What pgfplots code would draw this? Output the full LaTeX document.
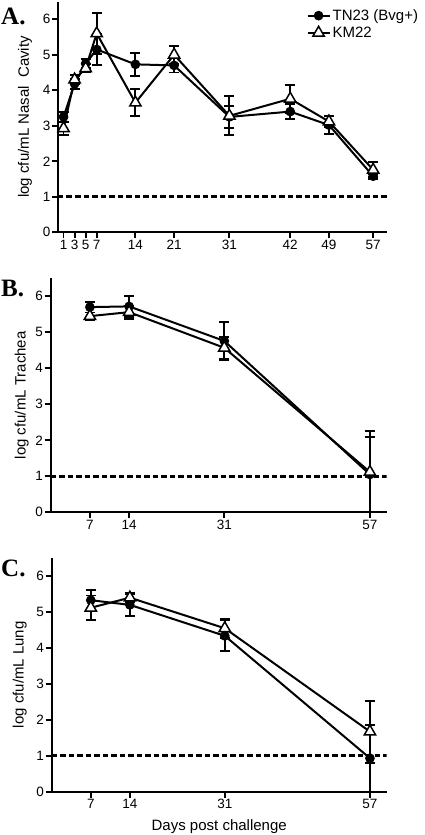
\documentclass[border=0pt]{standalone}
\usepackage{pgfplots}
\pgfplotsset{compat=1.18}
\usepackage{fontspec}
\setmainfont{Liberation Sans}
\newfontfamily\letterfont{Liberation Serif}
\begin{document}
\begin{tikzpicture}
\pgfplotsset{
  prism/.style={
    scale only axis,
    axis lines=left,
    x axis line style={-},
    y axis line style={-},
    axis line style={line width=1.9pt},
    tick align=outside,
    major tick length=6pt,
    tick style={line width=1.9pt,black},
    ymin=0, ymax=6.5, ytick={0,1,2,3,4,5,6},
    xmin=0,
    /pgf/number format/assume math mode=true,
    tick label style={font=\fontsize{13.5}{15}\selectfont, inner sep=1.5pt},
    label style={font=\fontsize{15}{17}\selectfont},
    clip mode=individual,
    anchor=south west,
  },
  tn/.style={black, line width=2pt, mark=*, mark size=3.8pt,
    mark options={solid, fill=black},
    error bars/y dir=both, error bars/y explicit,
    error bars/error bar style={line width=1.9pt, black},
    error bars/error mark options={black, line width=1.9pt, mark size=5pt, rotate=90}},
  km/.style={black, line width=2pt, mark=triangle*, mark size=6.5pt,
    mark options={solid, fill=white, line width=1.5pt},
    error bars/y dir=both, error bars/y explicit,
    error bars/error bar style={line width=1.9pt, black},
    error bars/error mark options={black, line width=1.9pt, mark size=5pt, rotate=90}},
  lod/.style={black, line width=2.6pt, dash pattern=on 5.5pt off 3pt, forget plot},
}

% ---------- Panel A ----------
\begin{axis}[prism,
  at={(58pt,-232.3pt)}, width=329pt, height=230.8pt,
  xmax=59.5,
  xtick={1,3,5,7,14,21,31,42,49,57},
  ylabel={log cfu/mL Nasal\ \ Cavity},
  ylabel style={at={([xshift=-33pt]rel axis cs:0,0.5)}, anchor=center},
  legend style={at={(rel axis cs:0.755,0.975)}, anchor=north west, draw=none, fill=none,
    font=\fontsize{15}{17}\selectfont, row sep=1pt, inner sep=0pt},
  legend cell align=left,
  legend image code/.code={\draw[mark repeat=2,mark phase=2,#1] plot coordinates {(0pt,0pt)(11pt,0pt)(22pt,0pt)};},
]
\addplot[lod] coordinates {(0,1) (59.5,1)};
\addplot[tn] table[x=x, y=y, y error=e] {
x y e
1 3.25 0.15
3 4.18 0.15
5 4.75 0.12
7 5.15 0.45
14 4.73 0.32
21 4.70 0.20
31 3.25 0.30
42 3.40 0.22
49 3.02 0.25
57 1.58 0.07
};
\addlegendentry{TN23 (Bvg+)}
\addplot[km] table[x=x, y=y, y error=e] {
x y e
1 2.93 0.18
3 4.30 0.12
5 4.62 0.12
7 5.60 0.57
14 3.65 0.38
21 5.00 0.25
31 3.28 0.55
42 3.76 0.40
49 3.12 0.15
57 1.76 0.21
};
\addlegendentry{KM22}
\end{axis}

% ---------- Panel B ----------
\begin{axis}[prism,
  at={(50.7pt,-512.3pt)}, width=336pt, height=234pt,
  xmax=60,
  xtick={7,14,31,57},
  ylabel={log cfu/mL Trachea},
  ylabel style={at={([xshift=-29pt]rel axis cs:0,0.5)}, anchor=center},
]
\addplot[lod] coordinates {(0,1) (60,1)};
\addplot[tn] table[x=x, y=y, y error=e] {
x y e
7 5.70 0.15
14 5.72 0.30
31 4.76 0.53
57 1.05 1.05
};
\addplot[km] table[x=x, y=y, y error=e] {
x y e
7 5.45 0.10
14 5.56 0.18
31 4.57 0.30
57 1.12 1.13
};
\end{axis}

% ---------- Panel C ----------
\begin{axis}[prism,
  at={(51.7pt,-791.7pt)}, width=335pt, height=234pt,
  xmax=60,
  xtick={7,14,31,57},
  ylabel={log cfu/mL Lung},
  ylabel style={at={([xshift=-32pt]rel axis cs:0,0.5)}, anchor=center},
  xlabel={Days post challenge},
  xlabel style={at={([yshift=-39pt]rel axis cs:0.5,0)}, anchor=base},
]
\addplot[lod] coordinates {(0,1) (60,1)};
\addplot[tn] table[x=x, y=y, y error=e] {
x y e
7 5.32 0.28
14 5.19 0.30
31 4.33 0.43
57 0.93 0.93
};
\addplot[km] table[x=x, y=y, y error=e] {
x y e
7 5.11 0.34
14 5.39 0.12
31 4.54 0.26
57 1.67 0.86
};
\end{axis}

\node[anchor=base west, inner sep=0pt, font=\letterfont\bfseries\fontsize{25}{27}\selectfont] at (1pt,-24pt) {A.};
\node[anchor=base west, inner sep=0pt, font=\letterfont\bfseries\fontsize{25}{27}\selectfont] at (1pt,-296pt) {B.};
\node[anchor=base west, inner sep=0pt, font=\letterfont\bfseries\fontsize{25}{27}\selectfont] at (1pt,-576pt) {C.};

\pgfresetboundingbox
\path[use as bounding box] (0pt,0pt) rectangle (425pt,-835pt);
\end{tikzpicture}
\end{document}
